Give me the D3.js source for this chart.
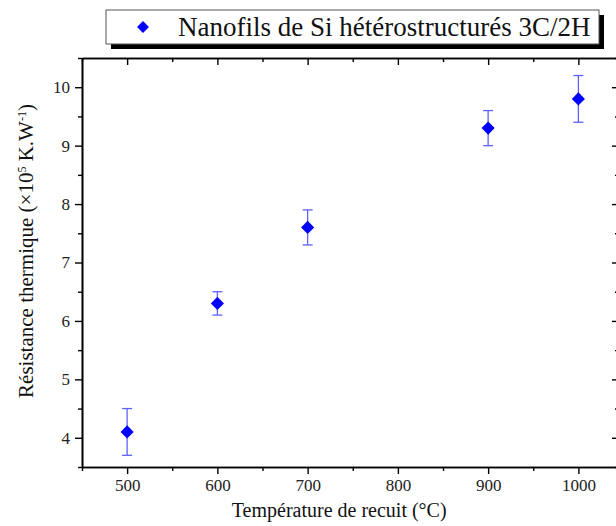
<!DOCTYPE html>
<html>
<head>
<meta charset="utf-8">
<script src="https://cdn.jsdelivr.net/npm/d3@7"></script>
<style>
  body { margin: 0; background: #fff; }
  svg { display: block; font-family: 'Liberation Serif', 'DejaVu Serif', serif; }
</style>
</head>
<body>
<div id="chart"></div>
<script>
const temperatures = [500, 600, 700, 900, 1000]
const resistance = [4.1, 6.3, 7.6, 9.3, 9.8]
const errors = [0.4, 0.2, 0.3, 0.3, 0.4]
const xTicks = [500, 600, 700, 800, 900, 1000]
const yTicks = [4, 5, 6, 7, 8, 9, 10]
const legendLabel = 'Nanofils de Si hétérostructurés 3C/2H'

const width = 616
const height = 526
const margin = { left: 82, top: 58, right: -3, bottom: 59 }

const svg = d3.select('#chart')
  .append('svg')
  .attr('width', width)
  .attr('height', height)

const x = d3.scaleLinear()
  .domain([450, 1045])
  .range([margin.left, width - margin.right])

const y = d3.scaleLinear()
  .domain([3.5, 10.5])
  .range([height - margin.bottom, margin.top])

const minorX = d3.range(450, 1050, 50).filter(function (v) { return v % 100 !== 0 })
const minorY = d3.range(3.5, 10.6, 0.5).filter(function (v) { return v % 1 !== 0 })
const fmt = d3.format('d')

// bottom axis, outward ticks
const bottomAxis = svg.append('g').attr('transform', 'translate(0,' + y.range()[0] + ')')
bottomAxis.call(d3.axisBottom(x).tickValues(xTicks).tickFormat(fmt).tickSize(7).tickPadding(5).tickSizeOuter(0))
bottomAxis.append('g').call(d3.axisBottom(x).tickValues(minorX).tickSize(4).tickFormat('').tickSizeOuter(0))

// left axis
const leftAxis = svg.append('g').attr('transform', 'translate(' + margin.left + ',0)')
leftAxis.call(d3.axisLeft(y).tickValues(yTicks).tickFormat(fmt).tickSize(7).tickPadding(5).tickSizeOuter(0))
leftAxis.append('g').call(d3.axisLeft(y).tickValues(minorY).tickSize(4).tickFormat('').tickSizeOuter(0))

// top and right axes, inward ticks, no labels
const topAxis = svg.append('g').attr('transform', 'translate(0,' + y.range()[1] + ')')
topAxis.call(d3.axisBottom(x).tickValues(xTicks).tickSize(7).tickFormat('').tickSizeOuter(0))
topAxis.append('g').call(d3.axisBottom(x).tickValues(minorX).tickSize(4).tickFormat('').tickSizeOuter(0))

const rightAxis = svg.append('g').attr('transform', 'translate(' + x.range()[1] + ',0)')
rightAxis.call(d3.axisLeft(y).tickValues(yTicks).tickSize(7).tickFormat('').tickSizeOuter(0))
rightAxis.append('g').call(d3.axisLeft(y).tickValues(minorY).tickSize(4).tickFormat('').tickSizeOuter(0))

svg.selectAll('.domain').attr('stroke', '#000').attr('stroke-width', 1.6)
svg.selectAll('.tick line').attr('stroke', '#000').attr('stroke-width', 1.4)
svg.selectAll('.tick text')
  .attr('fill', '#222')
  .style('font-size', '17px')
  .style('font-family', "'Liberation Serif', serif")

// axis titles
svg.append('text')
  .attr('x', x(735))
  .attr('y', 517)
  .attr('text-anchor', 'middle')
  .style('font-size', '20px')
  .attr('fill', '#111')
  .text('Température de recuit (°C)')

const yTitle = svg.append('text')
  .attr('transform', 'translate(33,251) rotate(-90)')
  .attr('text-anchor', 'middle')
  .style('font-size', '21px')
  .attr('fill', '#111')
yTitle.append('tspan').text('Résistance thermique (×10')
yTitle.append('tspan').attr('dy', -7).style('font-size', '12px').text('5')
yTitle.append('tspan').attr('dy', 7).text(' K.W')
yTitle.append('tspan').attr('dy', -7).style('font-size', '12px').text('-1')
yTitle.append('tspan').attr('dy', 7).text(')')

// error bars
const points = temperatures.map(function (t, i) {
  return { t: t, r: resistance[i], e: errors[i] }
})

const bars = svg.append('g')
  .attr('stroke', '#6060ff')
  .attr('stroke-width', 1.3)

bars.selectAll('line.stem').data(points).enter().append('line')
  .attr('x1', function (d) { return x(d.t) })
  .attr('x2', function (d) { return x(d.t) })
  .attr('y1', function (d) { return y(d.r - d.e) })
  .attr('y2', function (d) { return y(d.r + d.e) })

bars.selectAll('line.capTop').data(points).enter().append('line')
  .attr('x1', function (d) { return x(d.t) - 5 })
  .attr('x2', function (d) { return x(d.t) + 5 })
  .attr('y1', function (d) { return y(d.r + d.e) })
  .attr('y2', function (d) { return y(d.r + d.e) })

bars.selectAll('line.capBottom').data(points).enter().append('line')
  .attr('x1', function (d) { return x(d.t) - 5 })
  .attr('x2', function (d) { return x(d.t) + 5 })
  .attr('y1', function (d) { return y(d.r - d.e) })
  .attr('y2', function (d) { return y(d.r - d.e) })

const diamond = d3.symbol().type(d3.symbolDiamond2).size(110)

svg.selectAll('path.point').data(points).enter().append('path')
  .attr('d', diamond)
  .attr('transform', function (d) { return 'translate(' + x(d.t) + ',' + y(d.r) + ')' })
  .attr('fill', '#0000ff')

// legend with drop shadow
const legend = svg.append('g')
legend.append('rect')
  .attr('x', 111).attr('y', 15).attr('width', 493).attr('height', 34)
  .attr('fill', '#000')
legend.append('rect')
  .attr('x', 106).attr('y', 10).attr('width', 493).attr('height', 34)
  .attr('fill', '#fff').attr('stroke', '#555').attr('stroke-width', 1)
legend.append('path')
  .attr('d', d3.symbol().type(d3.symbolDiamond2).size(90))
  .attr('transform', 'translate(143,27)')
  .attr('fill', '#0000ff')
legend.append('text')
  .attr('x', 178).attr('y', 36)
  .style('font-size', '27px')
  .attr('fill', '#111')
  .text(legendLabel)
</script>
</body>
</html>
